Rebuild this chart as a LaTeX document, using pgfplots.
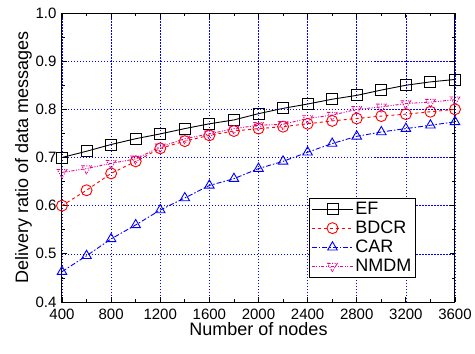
\documentclass[border=0pt]{standalone}
\usepackage{fontspec}
\setmainfont{Liberation Sans}
\usepackage{pgfplots}
\pgfplotsset{compat=1.18}

\begin{document}
\begin{tikzpicture}
\begin{axis}[
  name=main,
  scale only axis,
  width=393pt, height=289pt,
  xmin=400, xmax=3600, ymin=0.4, ymax=1.0,
  xtick={400,800,...,3600},
  minor xtick={600,1000,...,3400},
  ytick={0.4,0.5,...,1.0},
  minor ytick={0.45,0.55,...,0.95},
  yticklabel style={/pgf/number format/fixed,/pgf/number format/fixed zerofill,/pgf/number format/precision=1, xshift=-2pt},
  xticklabel style={/pgf/number format/1000 sep={}, yshift=-3pt},
  /pgf/number format/assume math mode=true,
  tick label style={font=\fontsize{15}{16}\selectfont},
  label style={font=\fontsize{18}{20}\selectfont},
  xlabel={Number of nodes},
  ylabel={Delivery ratio of data messages},
  xlabel style={yshift=4pt},
  ylabel style={yshift=-3pt},
  tick align=inside,
  major tick length=5pt, minor tick length=3pt,
  axis line style={line width=1pt},
  every tick/.style={black, line width=0.8pt},
  grid=major,
  major grid style={blue, line width=0.6pt, dash pattern=on 1.5pt off 1.5pt},
  legend style={at={(0.90,0.085)}, anchor=south east, font=\fontsize{18}{20}\selectfont,
    draw=black, line width=0.6pt, inner sep=2pt, row sep=1pt},
  legend cell align=left,
  legend image code/.code={\draw[mark repeat=2, mark phase=2] plot coordinates {(0cm,0cm) (0.72cm,0cm) (1.44cm,0cm)};},
  every axis plot/.append style={line width=0.9pt, mark size=5.5pt, mark options={solid, fill=none}},
]
\addplot[black, solid, mark=square] coordinates {
(400,0.700) (600,0.713) (800,0.727) (1000,0.739) (1200,0.749) (1400,0.760)
(1600,0.770) (1800,0.778) (2000,0.791) (2200,0.802) (2400,0.811) (2600,0.821)
(2800,0.829) (3000,0.840) (3200,0.850) (3400,0.857) (3600,0.862)};
\addlegendentry{EF}
\addplot[red, dashed, mark=o] coordinates {
(400,0.600) (600,0.632) (800,0.667) (1000,0.692) (1200,0.719) (1400,0.734)
(1600,0.746) (1800,0.755) (2000,0.760) (2200,0.764) (2400,0.770) (2600,0.776)
(2800,0.781) (3000,0.786) (3200,0.790) (3400,0.795) (3600,0.800)};
\addlegendentry{BDCR}
\addplot[blue, dash pattern=on 5pt off 2pt on 1.5pt off 2pt, mark=triangle] coordinates {
(400,0.463) (600,0.496) (800,0.531) (1000,0.560) (1200,0.591) (1400,0.616)
(1600,0.642) (1800,0.656) (2000,0.677) (2200,0.692) (2400,0.711) (2600,0.729)
(2800,0.744) (3000,0.753) (3200,0.760) (3400,0.767) (3600,0.774)};
\addlegendentry{CAR}
\addplot[magenta, dash pattern=on 3pt off 1.5pt on 1pt off 1.5pt on 1pt off 1.5pt, mark=triangle, mark options={rotate=180}] coordinates {
(400,0.669) (600,0.677) (800,0.688) (1000,0.697) (1200,0.722) (1400,0.739)
(1600,0.749) (1800,0.760) (2000,0.767) (2200,0.769) (2400,0.781) (2600,0.788)
(2800,0.800) (3000,0.805) (3200,0.812) (3400,0.815) (3600,0.820)};
\addlegendentry{NMDM}
\end{axis}
\pgfresetboundingbox
\path (main.south west) ++(-62pt,-52pt) rectangle ++(475pt,354pt);
\end{tikzpicture}
\end{document}
